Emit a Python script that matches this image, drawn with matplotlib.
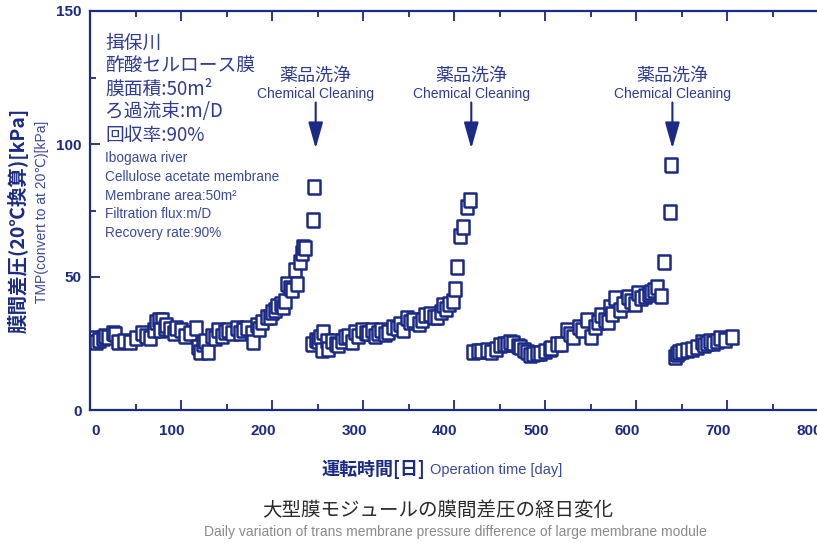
# -*- coding: utf-8 -*-
# TMP trend of the large membrane module (Ibogawa river pilot)

import matplotlib
matplotlib.use("Agg")
import matplotlib.pyplot as plt
from matplotlib.ticker import MultipleLocator
from matplotlib.transforms import ScaledTranslation

# DATA
# operation day / TMP converted to 20 C [kPa], one list pair per cleaning cycle
days_1 = [0, 3, 7, 10, 14, 17, 20, 25, 28, 31, 37, 44, 50, 57, 62, 66, 70, 73, 76, 79,
          77, 82, 84, 88, 92, 95, 100, 104, 110, 117, 119, 121, 124, 126, 130, 134, 137,
          141, 145, 148, 152, 156, 161, 165, 168, 173, 178, 179, 183, 186, 189, 194, 198,
          200, 203, 205, 210, 212, 214, 216, 220, 222, 225, 228, 231, 233, 234, 236, 245, 246]
tmp_1 = [26, 27, 25.6, 26.5, 27, 28, 27.5, 29, 28.5, 25.6, 26, 25.6, 27, 29, 28, 27, 30, 33, 34, 34,
         30, 31, 32, 30.5, 29, 31, 30, 28, 29, 31, 23.7, 21.9, 25, 26, 21.9, 28, 27,
         30, 28, 29.4, 30, 29, 31, 29, 30, 31, 29, 25.6, 32, 30.5, 33, 35, 35,
         37, 37.5, 39, 40, 38.8, 41, 47.5, 46, 45, 52.5, 47.5, 55.6, 59, 61.2, 61, 71.5, 84]

days_2 = [244, 248, 251, 253, 255, 256, 260, 262, 266, 270, 273, 277, 280, 284, 288, 291, 295,
          299, 303, 306, 310, 313, 317, 320, 324, 328, 333, 337, 341, 344, 348, 352, 355, 361,
          365, 368, 374, 378, 381, 386, 388, 391, 394, 399, 401, 403, 407, 410, 414, 418]
tmp_2 = [25, 26.5, 26, 27.5, 22.5, 29.4, 26, 23, 26, 25, 24.4, 26, 27.5, 28, 25.6, 29.4, 28,
         30, 29, 29, 30, 28, 29, 30, 28.5, 29.4, 31.2, 31, 32.5, 30, 34.5, 33, 33.7, 32.5,
         34, 35.6, 36.2, 35, 35, 36.9, 39.4, 38, 40, 41, 45.6, 53.6, 65.6, 68.8, 76.2, 79]

days_3 = [421, 426, 430, 436, 441, 446, 451, 455, 458, 462, 465, 470, 473, 477, 480, 484, 487,
          491, 495, 500, 505, 507, 513, 518, 524, 527, 531, 537, 541, 546, 551, 555, 558, 562,
          566, 569, 571, 574, 577, 582, 586, 591, 595, 599, 602, 606, 610, 614, 617, 620, 623,
          628, 631, 637, 639]
tmp_3 = [21.9, 22, 22.2, 22.5, 21.9, 23, 24.4, 24.8, 25, 25.5, 25.2, 24, 23.7, 22.5, 21.9, 20.6, 21.2,
         21.5, 21.3, 22, 23, 23.2, 25, 25, 30, 28.5, 27.5, 31.2, 30, 33.7, 27.5, 31.2, 33, 35.6,
         34, 33, 38.8, 36, 42, 37.5, 40, 42.5, 41, 40, 43.8, 42, 43, 43.5, 44.4, 45, 46.2,
         43, 55.6, 74.4, 92.2]

days_4 = [643, 645, 647, 651, 656, 661, 667, 672, 675, 678, 681, 685, 689, 692, 698, 705]
tmp_4 = [20, 21, 21.9, 22, 22.5, 23, 23.7, 25.6, 24.5, 25.2, 26, 25.2, 26, 27, 26.2, 27.5]

# chemical cleaning days
cleaning_days = [248, 419, 640]

info_jp = ["揖保川", "酢酸セルロース膜", "膜面積:50m²", "ろ過流束:m/D", "回収率:90%"]
info_en = ["Ibogawa river", "Cellulose acetate membrane", "Membrane area:50m²",
           "Filtration flux:m/D", "Recovery rate:90%"]

# STYLE
NAVY = "#1b2a84"
TEXT_BLUE = "#2e3c92"
JP = ["Noto Sans CJK JP", "DejaVu Sans"]
EN = ["Liberation Sans", "DejaVu Sans"]
NUM = ["Liberation Sans Narrow", "Liberation Sans", "DejaVu Sans"]

W, H = 817, 543


def fx(px):
    return px / W


def fy(py):
    return 1 - py / H


fig = plt.figure(figsize=(W / 100, H / 100), dpi=100)
ax = fig.add_axes([fx(90), fy(410), 728 / W, 399 / H])

# a rectangle marker, a bit taller than wide
rect = [(-0.42, -0.5), (0.42, -0.5), (0.42, 0.5), (-0.42, 0.5), (-0.42, -0.5)]
for d, t in [(days_1, tmp_1), (days_2, tmp_2), (days_3, tmp_3), (days_4, tmp_4)]:
    ax.plot(d, t, linestyle="none", marker=rect, markersize=10.5,
            markerfacecolor="white", markeredgecolor=NAVY, markeredgewidth=1.8)

ax.set_xlim(0, 800)
ax.set_ylim(0, 150)
ax.xaxis.set_major_locator(MultipleLocator(100))
ax.xaxis.set_minor_locator(MultipleLocator(50))
ax.yaxis.set_major_locator(MultipleLocator(50))
ax.yaxis.set_minor_locator(MultipleLocator(25))
ax.tick_params(which="both", direction="in", top=True, right=False, color=NAVY, width=1.3)
ax.tick_params(which="major", length=7)
ax.tick_params(which="minor", length=4)
ax.tick_params(axis="x", pad=10)
ax.tick_params(axis="y", pad=6)
# day labels sit slightly left of their ticks, the 0 just right of the corner
xlabels = ax.get_xticklabels()
for lab in xlabels:
    dx = 6 if lab.get_position()[0] == 0 else -9
    lab.set_transform(lab.get_transform() + ScaledTranslation(dx / 100, 0, fig.dpi_scale_trans))
for lab in xlabels + ax.get_yticklabels():
    lab.set_family(NUM)
    lab.set_fontweight("bold")
    lab.set_fontsize(11)
    lab.set_color(NAVY)
for side in ["left", "bottom", "top"]:
    ax.spines[side].set_color(NAVY)
    ax.spines[side].set_linewidth(1.6)
ax.spines["right"].set_visible(False)

# cleaning arrows
for day in cleaning_days:
    ax.annotate("", xy=(day, 98.3), xytext=(day, 115.6),
                arrowprops=dict(arrowstyle="-|>,head_length=1.6,head_width=0.45",
                                mutation_scale=10, color=NAVY, lw=1.5,
                                shrinkA=0, shrinkB=0))
    ax.text(day, 125.6, "薬品洗浄", family=JP, fontsize=13, color=TEXT_BLUE,
            ha="center", va="center")
    ax.text(day, 118.9, "Chemical Cleaning", family=EN, fontsize=10, color=TEXT_BLUE,
            ha="center", va="center")

# site / membrane notes
for i, s in enumerate(info_jp):
    fig.text(fx(105), fy(43 + 23 * i), s, family=JP, fontsize=13.5, color=TEXT_BLUE,
             ha="left", va="center")
for i, s in enumerate(info_en):
    fig.text(fx(105), fy(158 + 18.8 * i), s, family=EN, fontsize=9.8, color="#3a4a9c",
             ha="left", va="center")

# axis titles
fig.text(fx(18), fy(220), "膜間差圧(20℃換算)[kPa]", family=JP, fontsize=14,
         fontweight="bold", color=NAVY, rotation=90, ha="center", va="center")
fig.text(fx(42), fy(212), "TMP(convert to at 20℃)[kPa]", family=EN + JP, fontsize=10,
         color="#3a4a9c", rotation=90, ha="center", va="center")
fig.text(fx(322), fy(469), "運転時間[日]", family=JP, fontsize=13, fontweight="bold",
         color=NAVY, ha="left", va="center")
fig.text(fx(430), fy(470), "Operation time [day]", family=EN, fontsize=10.5,
         color="#3a4a9c", ha="left", va="center")

# caption
fig.text(fx(438), fy(510), "大型膜モジュールの膜間差圧の経日変化", family=JP, fontsize=14,
         color="#2a2a2a", ha="center", va="center")
fig.text(fx(455), fy(532),
         "Daily variation of trans membrane pressure difference of large membrane module",
         family=EN, fontsize=10, color="#8a8a8a", ha="center", va="center")

fig.savefig("out.png", dpi=100)
